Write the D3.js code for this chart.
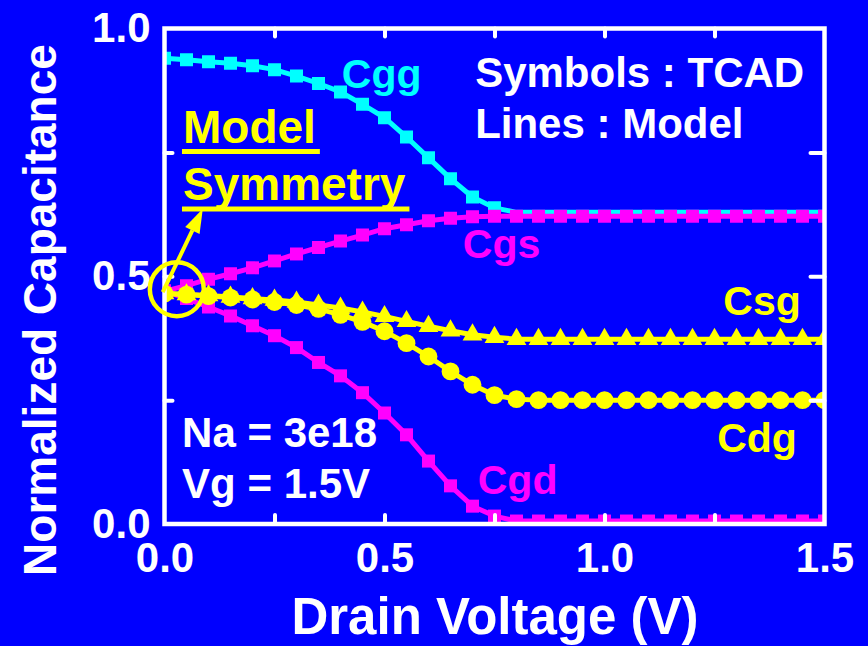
<!DOCTYPE html>
<html>
<head>
<meta charset="utf-8">
<script src="https://cdn.jsdelivr.net/npm/d3@7"></script>
<style>
  html, body { margin: 0; padding: 0; background: #0000ff; }
  svg { display: block; font-family: Arial, "Liberation Sans", sans-serif; font-weight: bold; }
</style>
</head>
<body>
<div id="chart"></div>
<script>
// drain voltage sweep (V)
const vd = [0, 0.05, 0.1, 0.15, 0.2, 0.25, 0.3, 0.35, 0.4, 0.45, 0.5, 0.55, 0.6, 0.65, 0.7, 0.75,
            0.8, 0.85, 0.9, 0.95, 1.0, 1.05, 1.1, 1.15, 1.2, 1.25, 1.3, 1.35, 1.4, 1.45, 1.5];

// normalized capacitances
const cgg = [0.940, 0.937, 0.933, 0.930, 0.925, 0.917, 0.904, 0.889, 0.872, 0.847, 0.820, 0.781, 0.739, 0.697, 0.660, 0.638,
             0.629, 0.629, 0.629, 0.629, 0.629, 0.629, 0.629, 0.629, 0.629, 0.629, 0.629, 0.629, 0.629, 0.629, 0.629];
const cgs = [0.470, 0.481, 0.494, 0.505, 0.517, 0.531, 0.545, 0.558, 0.571, 0.583, 0.596, 0.604, 0.612, 0.617, 0.620, 0.621,
             0.621, 0.621, 0.621, 0.621, 0.621, 0.621, 0.621, 0.621, 0.621, 0.621, 0.621, 0.621, 0.621, 0.621, 0.621];
const cgd = [0.470, 0.455, 0.438, 0.420, 0.400, 0.380, 0.356, 0.326, 0.299, 0.265, 0.224, 0.180, 0.127, 0.077, 0.036, 0.016,
             0.006, 0.006, 0.006, 0.006, 0.006, 0.006, 0.006, 0.006, 0.006, 0.006, 0.006, 0.006, 0.006, 0.006, 0.006];
const csg = [0.465, 0.463, 0.461, 0.458, 0.455, 0.452, 0.448, 0.442, 0.436, 0.428, 0.419, 0.409, 0.399, 0.390, 0.382, 0.377,
             0.373, 0.373, 0.373, 0.373, 0.373, 0.373, 0.373, 0.373, 0.373, 0.373, 0.373, 0.373, 0.373, 0.373, 0.373];
const cdg = [0.465, 0.463, 0.460, 0.457, 0.453, 0.448, 0.442, 0.434, 0.422, 0.408, 0.389, 0.365, 0.338, 0.308, 0.281, 0.260,
             0.252, 0.250, 0.250, 0.250, 0.250, 0.250, 0.250, 0.250, 0.250, 0.250, 0.250, 0.250, 0.250, 0.250, 0.250];

const xTickLabels = [0, 0.5, 1.0, 1.5];
const yTickLabels = [0, 0.5, 1.0];
const xMinorTicks = [0.25, 0.5, 0.75, 1.0, 1.25];
const yMinorTicks = [0.25, 0.5, 0.75];

// TCAD symbols for Cgg stop where the curve flattens (hidden under Cgs beyond)
const cggSymbolMax = 0.75;

const series = [
  { name: "Cgg", values: cgg, color: "#00ffff", symbol: d3.symbolSquare, size: 169, label: [0.403, 0.879] },
  { name: "Cgs", values: cgs, color: "#ff00ff", symbol: d3.symbolSquare, size: 169, label: [0.678, 0.536] },
  { name: "Cgd", values: cgd, color: "#ff00ff", symbol: d3.symbolSquare, size: 169, label: [0.712, 0.060] },
  { name: "Cdg", values: cdg, color: "#ffff00", symbol: d3.symbolCircle, size: 250, label: [1.256, 0.145] },
  { name: "Csg", values: csg, color: "#ffff00", symbol: d3.symbolTriangle, size: 170, label: [1.270, 0.421] }
];

const W = 868, H = 646;
const svg = d3.select("#chart").append("svg")
    .attr("width", W).attr("height", H);

svg.append("rect").attr("width", W).attr("height", H).attr("fill", "#0000ff");

const x = d3.scaleLinear().domain([0, 1.5]).range([164.5, 824.5]);
const y = d3.scaleLinear().domain([0, 1]).range([524, 28.5]);

svg.append("clipPath").attr("id", "plotclip")
  .append("rect")
    .attr("x", x(0)).attr("y", y(1))
    .attr("width", x(1.5) - x(0)).attr("height", y(0) - y(1));

// data
const plot = svg.append("g").attr("clip-path", "url(#plotclip)");
const line = d3.line().x(d => x(d[0])).y(d => y(d[1]));

series.forEach(s => {
  const pts = vd.map((v, i) => [v, s.values[i]]);
  plot.append("path")
      .attr("d", line(pts))
      .attr("fill", "none")
      .attr("stroke", s.color)
      .attr("stroke-width", 5)
      .attr("stroke-linejoin", "round");
  const sym = s.name === "Cgg" ? pts.filter(p => p[0] <= cggSymbolMax) : pts;
  plot.selectAll(null)
    .data(sym)
    .enter().append("path")
      .attr("d", d3.symbol().type(s.symbol).size(s.size))
      .attr("transform", d => `translate(${x(d[0])},${y(d[1])})`)
      .attr("fill", s.color);
});

// frame + ticks
svg.append("rect")
    .attr("x", x(0)).attr("y", y(1))
    .attr("width", x(1.5) - x(0)).attr("height", y(0) - y(1))
    .attr("fill", "none").attr("stroke", "#fff").attr("stroke-width", 4.5);

function minor(axis, tr) {
  const g = svg.append("g").attr("transform", tr).call(axis);
  g.select(".domain").remove();
  g.selectAll("line").attr("stroke", "#fff").attr("stroke-width", 4).attr("stroke-linecap", "round");
  g.selectAll("text").remove();
}
minor(d3.axisBottom(x).tickValues(xMinorTicks).tickSize(-9), `translate(0,${y(0)})`);
minor(d3.axisTop(x).tickValues(xMinorTicks).tickSize(-8), `translate(0,${y(1)})`);
minor(d3.axisLeft(y).tickValues(yMinorTicks).tickSize(-8), `translate(${x(0)},0)`);
minor(d3.axisRight(y).tickValues(yMinorTicks).tickSize(-14), `translate(${x(1.5)},0)`);

// tick labels
const xl = svg.append("g").attr("transform", `translate(0,${y(0)})`)
    .call(d3.axisBottom(x).tickValues(xTickLabels).tickSize(0).tickPadding(18).tickFormat(d3.format(".1f")));
xl.select(".domain").remove();
xl.selectAll("text").attr("fill", "#fff").style("font-size", "42px").style("font-family", "Arial, 'Liberation Sans', sans-serif");

const yl = svg.append("g").attr("transform", `translate(${x(0)},0)`)
    .call(d3.axisLeft(y).tickValues(yTickLabels).tickSize(0).tickPadding(14).tickFormat(d3.format(".1f")));
yl.select(".domain").remove();
yl.selectAll("text").attr("fill", "#fff").style("font-size", "42px").style("font-family", "Arial, 'Liberation Sans', sans-serif");

// axis titles
svg.append("text")
    .attr("x", 495).attr("y", 634)
    .attr("text-anchor", "middle")
    .attr("fill", "#fff").style("font-size", "51px")
    .text("Drain Voltage (V)");

svg.append("text")
    .attr("transform", "translate(56,310) rotate(-90)")
    .attr("text-anchor", "middle")
    .attr("fill", "#fff").style("font-size", "46px")
    .text("Normalized Capacitance");

// curve labels
series.forEach(s => {
  svg.append("text")
      .attr("x", x(s.label[0])).attr("y", y(s.label[1]))
      .attr("fill", s.color).style("font-size", "41px")
      .text(s.name);
});

// notes
const notes = [
  { text: "Symbols : TCAD", at: [0.706, 0.881] },
  { text: "Lines : Model", at: [0.706, 0.780] },
  { text: "Na = 3e18", at: [0.040, 0.155] },
  { text: "Vg = 1.5V", at: [0.040, 0.052] }
];
notes.forEach(n => {
  svg.append("text")
      .attr("x", x(n.at[0])).attr("y", y(n.at[1]))
      .attr("fill", "#fff").style("font-size", "42px")
      .text(n.text);
});

// "Model Symmetry" callout
const callout = [
  { text: "Model", at: [0.042, 0.769] },
  { text: "Symmetry", at: [0.042, 0.653] }
];
callout.forEach(c => {
  const t = svg.append("text")
      .attr("x", x(c.at[0])).attr("y", y(c.at[1]))
      .attr("fill", "#ffff00").style("font-size", "46px")
      .text(c.text);
  const w = t.node().getComputedTextLength();
  svg.append("line")
      .attr("x1", x(c.at[0]) - 1).attr("x2", x(c.at[0]) + w + 4)
      .attr("y1", y(c.at[1]) + 8.5).attr("y2", y(c.at[1]) + 8.5)
      .attr("stroke", "#ffff00").attr("stroke-width", 5);
});

svg.append("circle")
    .attr("cx", x(0.028)).attr("cy", y(0.474)).attr("r", 27)
    .attr("fill", "none").attr("stroke", "#ffff00").attr("stroke-width", 4.5);

// arrow from the circle up to the underline
const a0 = [x(-0.004), y(0.468)], a1 = [x(0.087), y(0.636)];
const ang = Math.atan2(a1[1] - a0[1], a1[0] - a0[0]);
const headL = 24, headW = 8;
const base = [a1[0] - headL * Math.cos(ang), a1[1] - headL * Math.sin(ang)];
svg.append("line")
    .attr("x1", a0[0]).attr("y1", a0[1]).attr("x2", base[0]).attr("y2", base[1])
    .attr("stroke", "#ffff00").attr("stroke-width", 4);
svg.append("path")
    .attr("d", d3.line()([
      a1,
      [base[0] + headW * Math.sin(ang), base[1] - headW * Math.cos(ang)],
      [base[0] - headW * Math.sin(ang), base[1] + headW * Math.cos(ang)]
    ]) + "Z")
    .attr("fill", "#ffff00");
</script>
</body>
</html>
